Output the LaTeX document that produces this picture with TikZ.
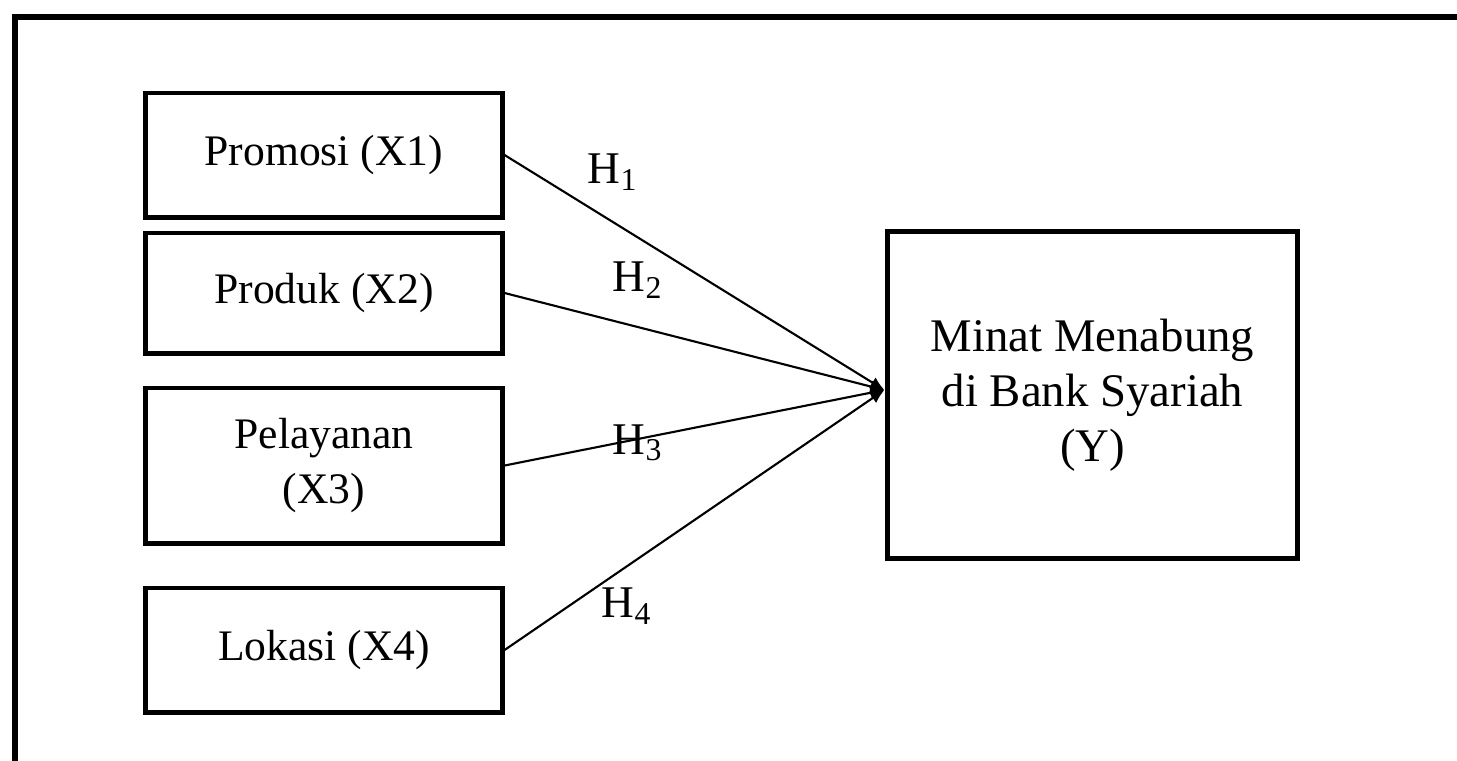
\documentclass[tikz,border=0pt]{standalone}
\usepackage{fontspec}
\setmainfont{Liberation Serif}
\usepackage{tikz}
\usetikzlibrary{arrows.meta, calc}

\begin{document}
\begin{tikzpicture}[x = 0.01cm, y = -0.01cm]
  \tikzset{>={Latex[length=4pt, width=3.5pt]},
    varbox/.style = {draw, line width = 1.4pt, inner sep = 0pt, align = center, minimum width = 3.56cm,
      font = \fontsize{12.4}{15.4}\selectfont},
    hyp/.style = {font = \fontsize{12.9}{15}\selectfont, inner sep = 0pt},
    path/.style = {->, line width = 0.6pt}}

  \useasboundingbox (0,0) rectangle (1457,760);
  \draw[line width = 1.5pt] (15,770) -- (15,17) -- (1470,17);

  \node[varbox, minimum height = 1.24cm] (x1) at (324,155) {Promosi (X1)};
  \node[varbox, minimum height = 1.20cm] (x2) at (324,293) {Produk (X2)};
  \node[varbox, minimum height = 1.55cm] (x3) at (324,465.5) {Pelayanan\\(X3)};
  \node[varbox, minimum height = 1.24cm] (x4) at (324,650) {Lokasi (X4)};

  \node[varbox, minimum width = 4.09cm, minimum height = 3.26cm, font = \fontsize{13.3}{15.6}\selectfont] (y) at (1092.5,395) {Minat Menabung\\di Bank Syariah\\(Y)};
  \coordinate (hub) at ($(y.west)+(-1,-5)$);

  \draw[path] (x1.east) -- (hub);
  \draw[path] (x2.east) -- (hub);
  \draw[path] (x3.east) -- (hub);
  \draw[path] (x4.east) -- (hub);

  \node[hyp] (h1) at (613,172) {H\textsubscript{1}};
  \node[hyp] (h2) at (638,280) {H\textsubscript{2}};
  \node[hyp] (h3) at (638,443) {H\textsubscript{3}};
  \node[hyp] (h4) at (627,606) {H\textsubscript{4}};
\end{tikzpicture}
\end{document}
